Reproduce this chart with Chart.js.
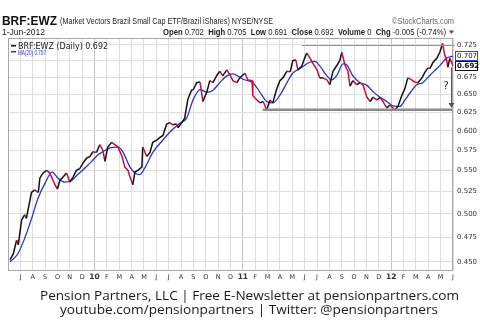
<!DOCTYPE html>
<html>
<head>
<meta charset="utf-8">
<script src="https://cdn.jsdelivr.net/npm/chart.js@4.4.1/dist/chart.umd.min.js"></script>
<style>
  html, body { margin: 0; padding: 0; background: #fff; }
  canvas { display: block; }
</style>
</head>
<body>
<canvas id="priceChart" width="480" height="329"></canvas>
<script>
// daily closes of BRF:EWZ (sampled)
const priceDates = ['2009-06-06','2009-06-14','2009-06-22','2009-06-26','2009-07-04','2009-07-12','2009-07-16','2009-07-29','2009-08-06','2009-08-15',
  '2009-08-19','2009-08-27','2009-09-05','2009-09-10','2009-09-17','2009-09-25','2009-10-01','2009-10-07','2009-10-15','2009-10-24',
  '2009-11-01','2009-11-09','2009-11-17','2009-11-25','2009-12-03','2009-12-12','2009-12-20','2009-12-28','2010-01-06','2010-01-14',
  '2010-01-22','2010-01-27','2010-02-03','2010-02-12','2010-02-19','2010-02-26','2010-03-08','2010-03-15','2010-03-23','2010-03-28',
  '2010-04-04','2010-04-09','2010-04-16','2010-04-26','2010-04-28','2010-05-08','2010-05-16','2010-05-23','2010-06-02','2010-06-09',
  '2010-06-17','2010-06-26','2010-07-04','2010-07-11','2010-07-21','2010-07-24','2010-08-03','2010-08-10','2010-08-18','2010-08-28',
  '2010-08-31','2010-09-09','2010-09-17','2010-09-24','2010-10-04','2010-10-11','2010-10-19','2010-10-29','2010-11-05','2010-11-12',
  '2010-11-22','2010-11-30','2010-12-07','2010-12-17','2010-12-24','2011-01-06','2011-01-14','2011-01-24','2011-01-26','2011-02-05',
  '2011-02-12','2011-02-19','2011-02-27','2011-03-07','2011-03-14','2011-03-24','2011-04-01','2011-04-08','2011-04-18','2011-04-26',
  '2011-05-02','2011-05-10','2011-05-15','2011-05-25','2011-06-01','2011-06-06','2011-06-14','2011-06-21','2011-07-01','2011-07-08',
  '2011-07-16','2011-07-26','2011-08-02','2011-08-10','2011-08-20','2011-08-27','2011-09-01','2011-09-09','2011-09-16','2011-09-21',
  '2011-09-28','2011-10-08','2011-10-16','2011-10-23','2011-11-02','2011-11-10','2011-11-17','2011-11-27','2011-12-04','2011-12-11',
  '2011-12-21','2011-12-29','2012-01-10','2012-01-18','2012-01-28','2012-02-04','2012-02-11','2012-02-20','2012-02-27','2012-03-06',
  '2012-03-16','2012-03-23','2012-03-31','2012-04-05','2012-04-12','2012-04-22','2012-04-29','2012-05-06','2012-05-11','2012-05-16',
  '2012-05-19','2012-05-24','2012-06-01'];
const priceValues = [0.452,0.458,0.472,0.467,0.493,0.499,0.495,0.524,0.527,0.524,
  0.541,0.547,0.550,0.548,0.542,0.533,0.528,0.538,0.542,0.547,
  0.536,0.542,0.550,0.552,0.559,0.565,0.567,0.573,0.572,0.582,
  0.575,0.561,0.579,0.585,0.582,0.579,0.567,0.554,0.550,0.542,
  0.533,0.548,0.550,0.554,0.579,0.567,0.572,0.585,0.588,0.591,
  0.594,0.609,0.611,0.608,0.609,0.604,0.611,0.617,0.643,0.657,
  0.656,0.667,0.668,0.640,0.654,0.670,0.667,0.678,0.684,0.677,
  0.686,0.678,0.670,0.667,0.674,0.681,0.671,0.670,0.648,0.642,
  0.638,0.640,0.628,0.642,0.638,0.658,0.670,0.674,0.684,0.683,
  0.700,0.701,0.686,0.692,0.704,0.712,0.704,0.696,0.686,0.674,
  0.674,0.671,0.664,0.684,0.693,0.700,0.713,0.693,0.684,0.662,
  0.670,0.664,0.667,0.664,0.646,0.640,0.646,0.642,0.646,0.640,
  0.631,0.635,0.628,0.633,0.649,0.658,0.674,0.671,0.668,0.667,
  0.674,0.682,0.689,0.688,0.697,0.704,0.713,0.727,0.709,0.701,
  0.690,0.704,0.692];

// 20-day moving average
const maDates = ['2009-06-06','2009-06-25','2009-07-12','2009-07-30','2009-08-14','2009-08-31','2009-09-18','2009-10-02','2009-10-19','2009-11-06',
  '2009-11-20','2009-12-08','2009-12-25','2010-01-09','2010-01-22','2010-02-08','2010-02-26','2010-03-10','2010-03-28','2010-04-09',
  '2010-04-21','2010-05-03','2010-05-23','2010-06-17','2010-07-09','2010-07-29','2010-08-15','2010-08-31','2010-09-17','2010-10-04',
  '2010-10-19','2010-11-05','2010-11-22','2010-12-07','2011-01-01','2011-01-26','2011-02-12','2011-02-27','2011-03-14','2011-04-01',
  '2011-04-18','2011-05-02','2011-05-20','2011-06-14','2011-06-26','2011-07-08','2011-07-26','2011-08-07','2011-08-20','2011-09-04',
  '2011-09-14','2011-09-28','2011-10-16','2011-11-02','2011-11-17','2011-12-04','2011-12-21','2012-01-05','2012-01-23','2012-02-04',
  '2012-02-16','2012-03-03','2012-03-18','2012-04-05','2012-04-22','2012-05-04','2012-05-16','2012-06-01'];
const maValues = [0.450,0.458,0.474,0.496,0.517,0.534,0.548,0.541,0.536,0.538,
  0.545,0.553,0.561,0.569,0.573,0.578,0.579,0.573,0.554,0.547,
  0.545,0.553,0.572,0.588,0.601,0.610,0.617,0.642,0.657,0.653,
  0.656,0.667,0.677,0.680,0.672,0.667,0.653,0.640,0.638,0.649,
  0.667,0.681,0.688,0.698,0.699,0.692,0.677,0.671,0.678,0.695,
  0.693,0.677,0.667,0.663,0.654,0.646,0.640,0.634,0.633,0.642,
  0.652,0.664,0.667,0.678,0.688,0.696,0.704,0.707];

const yTicks = [0.450,0.475,0.500,0.525,0.550,0.575,0.600,0.625,0.650,0.675,0.700,0.725];
const monthLetters = ['J','F','M','A','M','J','J','A','S','O','N','D'];

// trend lines drawn on top
const resistanceLevel = 0.724, resistanceFrom = '2011-05-25';
const supportLevel = 0.6285, supportFrom = '2011-02-18';
const arrowDate = '2012-05-26', arrowFrom = 0.690, arrowTo = 0.631;
const questionDate = '2012-05-14', questionLevel = 0.662;

const lastClose = priceValues[priceValues.length - 1];
const lastMA = maValues[maValues.length - 1];

// months since 1-Jun-2009
function monthPos(s) {
  const [y, m, d] = s.split('-').map(Number);
  const dim = new Date(y, m, 0).getDate();
  return (y - 2009) * 12 + (m - 6) + (d - 1) / dim;
}
function calMonth(v) { return (5 + v) % 12; }
function isJan(ctx) { return !!(ctx && ctx.tick) && calMonth(ctx.tick.value) === 0; }

const priceData = priceDates.map((d, i) => ({ x: monthPos(d), y: priceValues[i] }));
const maData = maDates.map((d, i) => ({ x: monthPos(d), y: maValues[i] }));

// draws runs of text squeezed/stretched into a given width
function fitRuns(ctx, runs, x, y, width) {
  let total = 0;
  runs.forEach(r => { ctx.font = r.font; r.w = ctx.measureText(r.t).width; total += r.w; });
  ctx.save();
  ctx.translate(x, y);
  ctx.scale(width / total, 1);
  ctx.textBaseline = 'alphabetic';
  ctx.textAlign = 'left';
  let cx = 0;
  runs.forEach(r => { ctx.font = r.font; ctx.fillStyle = r.color; ctx.fillText(r.t, cx, 0); cx += r.w; });
  ctx.restore();
}

const SANS = '"Liberation Sans", Arial, sans-serif';
const SMALL = '"DejaVu Sans", Verdana, sans-serif';

const overlay = {
  id: 'overlay',
  beforeDatasetsDraw(chart) {
    const { ctx, chartArea: a } = chart;
    ctx.save();
    ctx.strokeStyle = '#a8a8a8';
    ctx.lineWidth = 1;
    ctx.strokeRect(a.left + 0.5, a.top + 0.5, a.right - a.left - 1, a.bottom - a.top);
    ctx.restore();
  },
  afterDatasetsDraw(chart) {
    const { ctx, scales: { x, y }, chartArea: a } = chart;
    ctx.save();
    // resistance
    let py = Math.round(y.getPixelForValue(resistanceLevel)) + 0.5;
    ctx.strokeStyle = '#6f9bd8';
    ctx.lineWidth = 1;
    ctx.beginPath();
    ctx.moveTo(x.getPixelForValue(monthPos(resistanceFrom)), py);
    ctx.lineTo(a.right + 2, py);
    ctx.stroke();
    // support
    py = y.getPixelForValue(supportLevel);
    ctx.strokeStyle = '#8c8c8c';
    ctx.lineWidth = 2.5;
    ctx.beginPath();
    ctx.moveTo(x.getPixelForValue(monthPos(supportFrom)), py);
    ctx.lineTo(a.right - 1, py);
    ctx.stroke();
    // arrow
    const ax = Math.round(x.getPixelForValue(monthPos(arrowDate))) + 0.5;
    const y0 = y.getPixelForValue(arrowFrom), y1 = y.getPixelForValue(arrowTo);
    ctx.strokeStyle = '#555';
    ctx.fillStyle = '#555';
    ctx.lineWidth = 1;
    ctx.beginPath();
    ctx.moveTo(ax, y0);
    ctx.lineTo(ax, y1 - 4);
    ctx.stroke();
    ctx.beginPath();
    ctx.moveTo(ax - 3, y1 - 5);
    ctx.lineTo(ax + 3, y1 - 5);
    ctx.lineTo(ax, y1);
    ctx.closePath();
    ctx.fill();
    ctx.font = '11px ' + SMALL;
    ctx.fillStyle = '#333';
    ctx.textAlign = 'center';
    ctx.textBaseline = 'middle';
    ctx.fillText('?', x.getPixelForValue(monthPos(questionDate)), y.getPixelForValue(questionLevel));
    ctx.restore();
  },
  afterDraw(chart) {
    const { ctx, scales: { y } } = chart;
    ctx.save();
    // header
    fitRuns(ctx, [{ t: 'BRF:EWZ', font: 'bold 12px ' + SANS, color: '#111' }], 2, 24.5, 55);
    fitRuns(ctx, [{ t: '(Market Vectors Brazil Small Cap ETF/Brazil iShares) NYSE/NYSE', font: '9px ' + SANS, color: '#222' }], 60, 24, 213);
    fitRuns(ctx, [{ t: '\u00A9StockCharts.com', font: '9px ' + SANS, color: '#666' }], 392, 23.5, 62);
    fitRuns(ctx, [{ t: '1-Jun-2012', font: '8.5px ' + SANS, color: '#222' }], 2, 34.5, 43);
    const B = 'bold 8.5px ' + SANS, R = '8.5px ' + SANS, c = '#222';
    fitRuns(ctx, [
      { t: 'Open ', font: B, color: c }, { t: '0.702  ', font: R, color: c },
      { t: 'High ', font: B, color: c }, { t: '0.705  ', font: R, color: c },
      { t: 'Low ', font: B, color: c }, { t: '0.691  ', font: R, color: c },
      { t: 'Close ', font: B, color: c }, { t: '0.692  ', font: R, color: c },
      { t: 'Volume ', font: B, color: c }, { t: '0  ', font: R, color: c },
      { t: 'Chg ', font: B, color: c }, { t: '-0.005 (-0.74%)', font: R, color: c }
    ], 163, 34.5, 283);
    ctx.fillStyle = '#c8102e';
    ctx.beginPath();
    ctx.moveTo(449, 30.5); ctx.lineTo(454, 30.5); ctx.lineTo(451.5, 34);
    ctx.closePath();
    ctx.fill();

    // legend
    ctx.fillStyle = '#111';
    ctx.fillRect(11, 45, 5, 1.5);
    fitRuns(ctx, [{ t: 'BRF:EWZ (Daily) ' + lastClose.toFixed(3), font: '8px ' + SMALL, color: '#222' }], 18, 48.5, 90);
    ctx.fillStyle = '#2a33c8';
    ctx.fillRect(11, 51, 5, 1.5);
    fitRuns(ctx, [{ t: 'MA(20) ' + lastMA.toFixed(3), font: '7.5px ' + SANS, color: '#2a33c8' }], 18, 55, 28);

    // last value boxes on the axis
    const boxes = [
      { v: lastMA, stroke: '#3344cc', font: '7px ' + SMALL },
      { v: lastClose, stroke: '#111', font: 'bold 7px ' + SMALL }
    ];
    boxes.forEach(b => {
      const cy = Math.round(y.getPixelForValue(b.v));
      ctx.fillStyle = '#fff';
      ctx.fillRect(455, cy - 5, 23, 10);
      ctx.strokeStyle = b.stroke;
      ctx.lineWidth = 1;
      ctx.strokeRect(455.5, cy - 4.5, 22, 9);
      ctx.font = b.font;
      ctx.fillStyle = '#111';
      ctx.textAlign = 'left';
      ctx.textBaseline = 'middle';
      ctx.fillText(b.v.toFixed(3), 457, cy + 0.5);
    });

    // footer
    fitRuns(ctx, [{ t: 'Pension Partners, LLC | Free E-Newsletter at pensionpartners.com', font: '13px "Open Sans", sans-serif', color: '#1a1a1a' }], 40, 299.5, 419);
    fitRuns(ctx, [{ t: 'youtube.com/pensionpartners | Twitter: @pensionpartners', font: '13px "Open Sans", sans-serif', color: '#1a1a1a' }], 60, 313.5, 378);
    ctx.restore();
  }
};

new Chart(document.getElementById('priceChart'), {
  type: 'line',
  data: {
    datasets: [
      {
        label: 'BRF:EWZ (Daily)',
        data: priceData,
        borderWidth: 1.5,
        borderColor: '#111',
        pointRadius: 0,
        segment: {
          borderColor: ctx => ctx.p1.parsed.y >= ctx.p0.parsed.y ? '#111' : '#cc0a3c'
        }
      },
      {
        label: 'MA(20)',
        data: maData,
        borderWidth: 1.3,
        borderColor: '#2a33c8',
        pointRadius: 0,
        cubicInterpolationMode: 'monotone'
      }
    ]
  },
  options: {
    responsive: false,
    animation: false,
    layout: { padding: { left: 8, top: 38, right: 0, bottom: 0 } },
    plugins: { legend: { display: false }, tooltip: { enabled: false } },
    scales: {
      x: {
        type: 'linear',
        min: 0,
        max: 36,
        afterBuildTicks: scale => {
          const t = [];
          for (let v = 1; v <= 36; v++) t.push({ value: v });
          scale.ticks = t;
        },
        afterFit: scale => { scale.height = 59; },
        border: { display: false },
        grid: {
          drawTicks: false,
          color: ctx => isJan(ctx) ? '#c4c4c4' : '#dedede'
        },
        ticks: {
          autoSkip: false,
          maxRotation: 0,
          padding: 3,
          color: '#333',
          font: ctx => ({
            family: SMALL,
            size: isJan(ctx) ? 7.5 : 6.5,
            weight: isJan(ctx) ? 'bold' : 'normal'
          }),
          callback: v => {
            const m = calMonth(v);
            if (m === 0) return String(2009 + Math.floor((5 + v) / 12)).slice(2);
            return monthLetters[m];
          }
        }
      },
      y: {
        type: 'logarithmic',
        position: 'right',
        min: 0.4419,
        max: 0.7358,
        afterBuildTicks: scale => { scale.ticks = yTicks.map(v => ({ value: v })); },
        afterFit: scale => { scale.width = 27; },
        border: { display: false },
        grid: { drawTicks: false, color: '#dedede' },
        ticks: {
          autoSkip: false,
          padding: 4,
          color: '#333',
          font: { family: SMALL, size: 7 },
          callback: v => Number(v).toFixed(3)
        }
      }
    }
  },
  plugins: [overlay]
});
</script>
</body>
</html>
